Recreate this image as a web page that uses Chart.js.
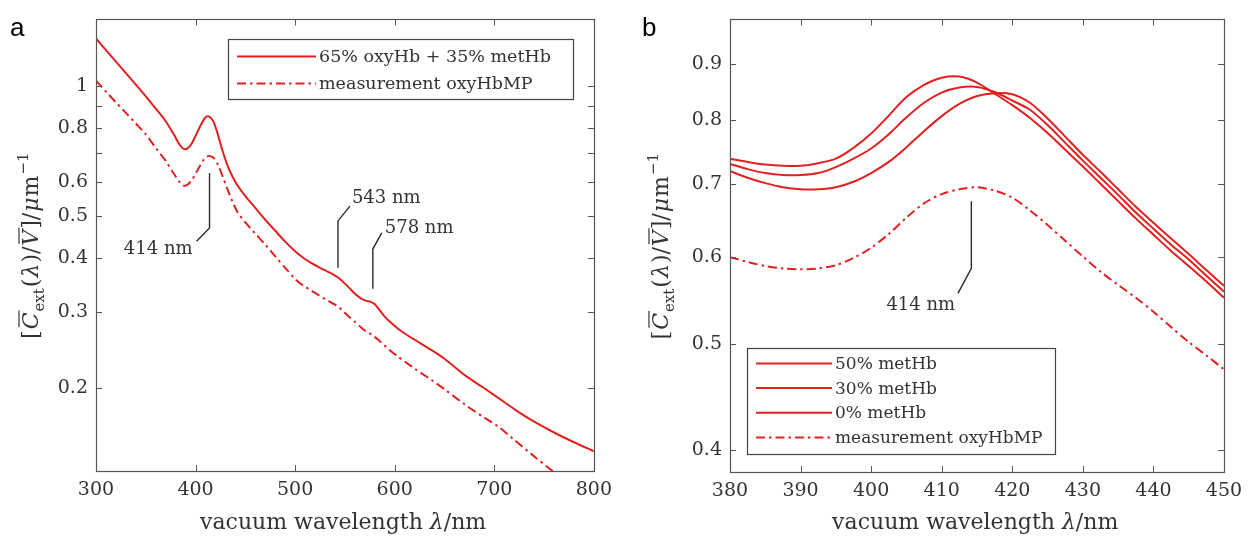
<!DOCTYPE html>
<html>
<head>
<meta charset="utf-8">
<script src="https://cdn.jsdelivr.net/npm/chart.js@4.4.1/dist/chart.umd.min.js"></script>
<style>
  html, body { margin: 0; padding: 0; background: #fff; }
  #wrap { position: relative; width: 1254px; height: 541px; overflow: hidden; }
  canvas { position: absolute; top: 0; }
  #panelA { left: 0; }
  #panelB { left: 620px; }
</style>
</head>
<body>
<div id="wrap">
  <canvas id="panelA" width="620" height="541"></canvas>
  <canvas id="panelB" width="634" height="541"></canvas>
</div>
<script>
// ---------- panel a: broad spectrum ----------
const wlA = [300, 310, 320, 330, 340, 350, 360, 370, 378, 384, 388, 392, 396, 400, 404, 408, 411, 414, 418, 422,
             427, 432, 437, 442, 450, 460, 470, 480, 490, 500, 508, 516, 524, 532, 538, 543, 548, 554, 560, 566,
             571, 576, 580, 585, 590, 596, 604, 612, 620, 637, 650, 671, 690, 704, 720, 737, 760, 780, 800];
const mixA = [1.29, 1.212, 1.14, 1.073, 1.009, 0.948, 0.888, 0.83, 0.775, 0.732, 0.716, 0.718, 0.736, 0.768, 0.803, 0.835, 0.851, 0.850, 0.828, 0.778,
              0.710, 0.656, 0.618, 0.590, 0.557, 0.523, 0.491, 0.463, 0.437, 0.415, 0.401, 0.390, 0.381, 0.373, 0.367, 0.361, 0.353, 0.342, 0.331, 0.323,
              0.319, 0.317, 0.313, 0.303, 0.293, 0.284, 0.274, 0.266, 0.259, 0.245, 0.234, 0.214, 0.200, 0.190, 0.179, 0.169, 0.158, 0.150, 0.143];
const measA = [1.03, 0.972, 0.918, 0.868, 0.82, 0.774, 0.72, 0.672, 0.628, 0.600, 0.589, 0.592, 0.606, 0.627, 0.652, 0.675, 0.686, 0.690, 0.683, 0.662,
               0.620, 0.578, 0.541, 0.512, 0.484, 0.456, 0.430, 0.404, 0.380, 0.358, 0.346, 0.337, 0.328, 0.320, 0.314, 0.309, 0.302, 0.293, 0.285, 0.277,
               0.271, 0.267, 0.263, 0.257, 0.251, 0.244, 0.236, 0.229, 0.222, 0.209, 0.199, 0.183, 0.171, 0.163, 0.152, 0.141, 0.128, 0.120, 0.113];
const xTicksA = [300, 400, 500, 600, 700, 800];
const yTicksA = [0.2, 0.3, 0.4, 0.5, 0.6, 0.7, 0.8, 0.9, 1];
const yLabelsA = ['0.2', '0.3', '0.4', '0.5', '0.6', '', '0.8', '', '1'];
const legendA = ['65% oxyHb + 35% metHb', 'measurement oxyHbMP'];
const notesA = [
  { label: '414 nm', path: [[414, 0.63], [414, 0.47], [401, 0.438]], at: [397, 0.42], align: 'right' },
  { label: '543 nm', path: [[543, 0.38], [543, 0.488], [555, 0.528]], at: [557, 0.549], align: 'left' },
  { label: '578 nm', path: [[578, 0.34], [578, 0.42], [587, 0.458]], at: [590, 0.47], align: 'left' }
];

// ---------- panel b: Soret band detail ----------
const wlB = [380, 382.5, 385, 387.5, 390, 392.5, 395, 397.5, 400, 402.5, 405, 407.5, 410, 412.5, 415,
             417.5, 420, 422.5, 425, 427.5, 430, 432.5, 435, 437.5, 440, 442.5, 445, 447.5, 450];
const met50 = [0.738, 0.733, 0.729, 0.727, 0.727, 0.731, 0.738, 0.755, 0.778, 0.808, 0.840, 0.862, 0.875, 0.877, 0.866,
               0.846, 0.826, 0.804, 0.779, 0.752, 0.726, 0.700, 0.675, 0.651, 0.629, 0.608, 0.589, 0.570, 0.551];
const met30 = [0.730, 0.722, 0.716, 0.713, 0.713, 0.716, 0.725, 0.738, 0.754, 0.777, 0.805, 0.830, 0.848, 0.857, 0.858,
               0.849, 0.834, 0.818, 0.792, 0.763, 0.735, 0.709, 0.684, 0.659, 0.637, 0.616, 0.597, 0.577, 0.558];
const met0  = [0.719, 0.709, 0.701, 0.695, 0.692, 0.692, 0.695, 0.703, 0.716, 0.733, 0.756, 0.782, 0.807, 0.828, 0.842,
               0.847, 0.845, 0.830, 0.803, 0.773, 0.744, 0.718, 0.692, 0.667, 0.645, 0.624, 0.604, 0.584, 0.565];
const measB = [0.600, 0.594, 0.589, 0.586, 0.585, 0.586, 0.590, 0.599, 0.612, 0.630, 0.652, 0.672, 0.685, 0.692, 0.695,
               0.690, 0.680, 0.662, 0.642, 0.621, 0.601, 0.582, 0.566, 0.551, 0.535, 0.518, 0.502, 0.488, 0.474];
const xTicksB = [380, 390, 400, 410, 420, 430, 440, 450];
const yTicksB = [0.4, 0.5, 0.6, 0.7, 0.8, 0.9];
const yLabelsB = ['0.4', '0.5', '0.6', '0.7', '0.8', '0.9'];
const legendB = ['50% metHb', '30% metHb', '0% metHb', 'measurement oxyHbMP'];
const notesB = [
  { label: '414 nm', path: [[414.2, 0.675], [414.2, 0.586], [412.3, 0.556]], at: [411.9, 0.5425], align: 'right' }
];

// ---------- shared styling ----------
const RED = 'rgb(226,32,32)';
const AXIS = '#555555';
const INK = '#333333';
const SERIF = '"DejaVu Serif", serif';
const DASHDOT = [9, 4, 2.5, 4];

function points(xs, ys) { return xs.map((x, i) => ({ x: x, y: ys[i] })); }

function series(label, xs, ys, dashed) {
  return {
    label: label,
    data: points(xs, ys),
    borderColor: RED,
    backgroundColor: RED,
    borderWidth: 2,
    pointRadius: 0,
    fill: false,
    tension: 0.3,
    borderDash: dashed ? DASHDOT : [],
    borderCapStyle: 'butt',
    borderJoinStyle: 'round'
  };
}

// rotated y-axis title: [C̄_ext(λ)/V̄]/μm^-1
function drawYTitle(ctx, cx, cy, size) {
  const parts = [
    ['[', 'n'], ['C', 'i', true], ['ext', 'sub'], ['(', 'n'], ['λ', 'i'], [')/', 'n'],
    ['V', 'i', true], [']/', 'n'], ['μ', 'i'], ['m', 'n'], ['−1', 'sup']
  ];
  const fontFor = k => (k === 'i' ? 'italic ' : '') +
    Math.round(k === 'sub' || k === 'sup' ? size * 0.68 : size) + 'px ' + SERIF;
  ctx.save();
  ctx.translate(cx, cy);
  ctx.rotate(-Math.PI / 2);
  let total = 0;
  const widths = parts.map(p => {
    ctx.font = fontFor(p[1]);
    const w = ctx.measureText(p[0]).width + 1;
    total += w;
    return w;
  });
  let x = -total / 2;
  const base = size * 0.36;
  ctx.fillStyle = INK;
  ctx.strokeStyle = INK;
  ctx.textBaseline = 'alphabetic';
  ctx.textAlign = 'left';
  parts.forEach((p, i) => {
    ctx.font = fontFor(p[1]);
    let dy = 0;
    if (p[1] === 'sub') dy = size * 0.28;
    if (p[1] === 'sup') dy = -size * 0.45;
    ctx.fillText(p[0], x, base + dy);
    if (p[2]) {
      ctx.lineWidth = 1.2;
      ctx.beginPath();
      ctx.moveTo(x + 2, base - size * 0.86);
      ctx.lineTo(x + widths[i] + 1, base - size * 0.86);
      ctx.stroke();
    }
    x += widths[i];
  });
  ctx.restore();
}

// frame, inward ticks, annotations, in-axes legend and titles
const decor = {
  id: 'decor',
  afterDraw(chart, _args, o) {
    const ctx = chart.ctx;
    const a = chart.chartArea;
    const xs = chart.scales.x, ys = chart.scales.y;
    const X = v => xs.getPixelForValue(v);
    const Y = v => ys.getPixelForValue(v);
    ctx.save();

    // tick marks pointing into the axes box
    ctx.strokeStyle = AXIS;
    ctx.lineWidth = 1;
    ctx.beginPath();
    xs.ticks.forEach(t => {
      const p = Math.round(X(t.value)) + 0.5;
      ctx.moveTo(p, a.bottom); ctx.lineTo(p, a.bottom - o.tickLen);
      ctx.moveTo(p, a.top); ctx.lineTo(p, a.top + o.tickLen);
    });
    ys.ticks.forEach(t => {
      const p = Math.round(Y(t.value)) + 0.5;
      ctx.moveTo(a.left, p); ctx.lineTo(a.left + o.tickLen, p);
      ctx.moveTo(a.right, p); ctx.lineTo(a.right - o.tickLen, p);
    });
    ctx.stroke();

    // box
    ctx.lineWidth = 1.2;
    ctx.strokeRect(Math.round(a.left) + 0.5, Math.round(a.top) + 0.5, Math.round(a.width), Math.round(a.height));

    // peak annotations with leader lines
    ctx.font = o.noteFont + 'px ' + SERIF;
    ctx.textBaseline = 'middle';
    o.notes.forEach(n => {
      ctx.strokeStyle = '#2b2b2b';
      ctx.lineWidth = 1.4;
      ctx.beginPath();
      n.path.forEach((pt, i) => {
        const px = X(pt[0]), py = Y(pt[1]);
        if (i === 0) ctx.moveTo(px, py); else ctx.lineTo(px, py);
      });
      ctx.stroke();
      ctx.fillStyle = INK;
      ctx.textAlign = n.align;
      ctx.fillText(n.label, X(n.at[0]), Y(n.at[1]));
    });

    // legend inside the axes
    const L = o.legend;
    const bx = a.left + L.dx, by = a.top + L.dy;
    ctx.fillStyle = '#fff';
    ctx.fillRect(bx, by, L.w, L.h);
    ctx.strokeStyle = '#444';
    ctx.lineWidth = 1.2;
    ctx.strokeRect(Math.round(bx) + 0.5, Math.round(by) + 0.5, L.w, L.h);
    ctx.font = L.font + 'px ' + SERIF;
    ctx.textAlign = 'left';
    ctx.textBaseline = 'middle';
    chart.data.datasets.forEach((ds, i) => {
      const ry = by + L.first + i * L.row;
      ctx.strokeStyle = ds.borderColor;
      ctx.lineWidth = ds.borderWidth;
      ctx.setLineDash(ds.borderDash || []);
      ctx.beginPath();
      ctx.moveTo(bx + L.pad, ry);
      ctx.lineTo(bx + L.pad + L.sample, ry);
      ctx.stroke();
      ctx.setLineDash([]);
      ctx.fillStyle = INK;
      ctx.fillText(ds.label, bx + L.pad + L.sample + 3, ry + 1);
    });

    // axis titles
    ctx.fillStyle = INK;
    ctx.font = o.titleFont + 'px ' + SERIF;
    ctx.textAlign = 'center';
    ctx.textBaseline = 'alphabetic';
    ctx.fillText('vacuum wavelength ', (a.left + a.right) / 2 - 30, o.xTitleY);
    const wA = ctx.measureText('vacuum wavelength ').width;
    ctx.textAlign = 'left';
    ctx.font = 'italic ' + o.titleFont + 'px ' + SERIF;
    const lx = (a.left + a.right) / 2 - 30 + wA / 2;
    ctx.fillText('λ', lx, o.xTitleY);
    const wL = ctx.measureText('λ').width;
    ctx.font = o.titleFont + 'px ' + SERIF;
    ctx.fillText('/nm', lx + wL, o.xTitleY);

    drawYTitle(ctx, o.yTitleX, (a.top + a.bottom) / 2, o.titleFont);

    // panel letter
    ctx.font = '26px "Liberation Sans", Arial, sans-serif';
    ctx.textAlign = 'left';
    ctx.textBaseline = 'alphabetic';
    ctx.fillStyle = '#000';
    ctx.fillText(o.letter.text, o.letter.x, o.letter.y);

    ctx.restore();
  }
};

function makePanel(id, cfg) {
  const labelFor = (ticks, labels) => v => {
    const i = ticks.findIndex(t => Math.abs(t - v) < 1e-9);
    return i >= 0 ? labels[i] : '';
  };
  return new Chart(document.getElementById(id), {
    type: 'line',
    data: { datasets: cfg.datasets },
    plugins: [decor],
    options: {
      responsive: false,
      animation: false,
      events: [],
      layout: { padding: { left: 0, right: cfg.padRight, top: 18, bottom: 0 } },
      plugins: {
        legend: { display: false },
        tooltip: { enabled: false },
        decor: cfg.decor
      },
      scales: {
        x: {
          type: 'linear',
          min: cfg.xMin, max: cfg.xMax,
          grid: { display: false, drawTicks: false },
          border: { display: false },
          afterBuildTicks: s => { s.ticks = cfg.xTicks.map(v => ({ value: v })); },
          afterFit: s => { s.height = cfg.xAxisH; },
          ticks: {
            autoSkip: false, maxRotation: 0, padding: 8, color: INK,
            font: { family: SERIF, size: 19 },
            callback: v => String(v)
          }
        },
        y: {
          type: 'logarithmic',
          min: cfg.yMin, max: cfg.yMax,
          grid: { display: false, drawTicks: false },
          border: { display: false },
          afterBuildTicks: s => { s.ticks = cfg.yTicks.map(v => ({ value: v })); },
          afterFit: s => { s.width = cfg.yAxisW; },
          ticks: {
            autoSkip: false, padding: 8, color: INK,
            font: { family: SERIF, size: 19 },
            callback: labelFor(cfg.yTicks, cfg.yLabels)
          }
        }
      }
    }
  });
}

makePanel('panelA', {
  datasets: [
    series(legendA[0], wlA, mixA, false),
    series(legendA[1], wlA, measA, true)
  ],
  xMin: 300, xMax: 800, yMin: 0.1287, yMax: 1.428,
  xTicks: xTicksA, yTicks: yTicksA, yLabels: yLabelsA,
  padRight: 26, xAxisH: 70, yAxisW: 96,
  decor: {
    tickLen: 6, noteFont: 18, titleFont: 22, xTitleY: 529, yTitleX: 30,
    notes: notesA,
    legend: { dx: 132, dy: 20, w: 345, h: 60, first: 17, row: 27, pad: 9, sample: 79, font: 17.5 },
    letter: { text: 'a', x: 10, y: 36 }
  }
});

makePanel('panelB', {
  datasets: [
    series(legendB[0], wlB, met50, false),
    series(legendB[1], wlB, met30, false),
    series(legendB[2], wlB, met0, false),
    series(legendB[3], wlB, measB, true)
  ],
  xMin: 380, xMax: 450, yMin: 0.382, yMax: 0.989,
  xTicks: xTicksB, yTicks: yTicksB, yLabels: yLabelsB,
  padRight: 30, xAxisH: 69, yAxisW: 110,
  decor: {
    tickLen: 6, noteFont: 18, titleFont: 22, xTitleY: 529, yTitleX: 40,
    notes: notesB,
    legend: { dx: 17, dy: 329, w: 308, h: 106, first: 15, row: 24.7, pad: 9, sample: 76, font: 17 },
    letter: { text: 'b', x: 22, y: 36 }
  }
});
</script>
</body>
</html>
